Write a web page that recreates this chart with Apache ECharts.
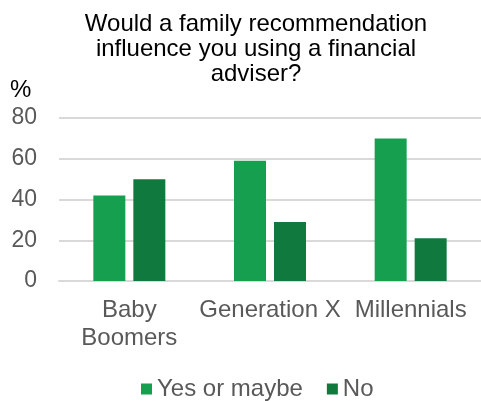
<!DOCTYPE html>
<html>
<head>
<meta charset="utf-8">
<script src="https://cdn.jsdelivr.net/npm/echarts@6/dist/echarts.min.js"></script>
<style>
  html, body { margin: 0; padding: 0; background: #fff; }
  #chart { width: 481px; height: 401px; }
</style>
</head>
<body>
<div id="chart"></div>
<script>
// Survey: share answering whether a family recommendation would influence them
const categories = ['Baby\nBoomers', 'Generation X', 'Millennials'];
const yesOrMaybe = [42, 59, 70];
const no = [50, 29, 21];
const seriesNames = ['Yes or maybe', 'No'];
const titleText = 'Would a family recommendation\ninfluence you using a financial\nadviser?';

const FONT = '"Liberation Sans", Arial, sans-serif';
const chart = echarts.init(document.getElementById('chart'), null, { renderer: 'canvas' });

chart.setOption({
  animation: false,
  backgroundColor: '#ffffff',
  title: {
    text: titleText,
    left: 251,
    top: 7,
    textAlign: 'center',
    textStyle: {
      fontFamily: FONT,
      fontSize: 24,
      fontWeight: 'normal',
      color: '#000000',
      lineHeight: 25
    }
  },
  legend: {
    data: seriesNames,
    top: 372,
    left: 136,
    itemWidth: 11,
    itemHeight: 11,
    itemGap: 24,
    icon: 'rect',
    textStyle: { fontFamily: FONT, fontSize: 24, color: '#595959' }
  },
  grid: {
    left: 59,
    right: 0,
    top: 118,
    bottom: 120,
    containLabel: false
  },
  xAxis: {
    type: 'category',
    data: categories,
    axisLine: { show: true, lineStyle: { color: '#d9d9d9', width: 2 } },
    axisTick: { show: false },
    axisLabel: {
      fontFamily: FONT,
      fontSize: 24,
      color: '#595959',
      margin: 15,
      lineHeight: 28.5,
      interval: 0
    }
  },
  yAxis: {
    type: 'value',
    min: 0,
    max: 80,
    interval: 20,
    name: '%',
    nameLocation: 'end',
    nameGap: 16,
    nameTextStyle: { fontFamily: FONT, fontSize: 24, color: '#000000', align: 'left', padding: [0, 0, 0, -49] },
    axisLine: { show: false },
    axisTick: { show: false },
    splitLine: { lineStyle: { color: '#d9d9d9', width: 2 } },
    axisLabel: { fontFamily: FONT, fontSize: 23, color: '#595959', margin: 22 }
  },
  series: [
    {
      name: seriesNames[0],
      type: 'bar',
      data: yesOrMaybe,
      barWidth: 32,
      barGap: '25%',
      itemStyle: { color: '#179f50' }
    },
    {
      name: seriesNames[1],
      type: 'bar',
      data: no,
      barWidth: 32,
      itemStyle: { color: '#107a3e' }
    }
  ]
});
</script>
</body>
</html>
